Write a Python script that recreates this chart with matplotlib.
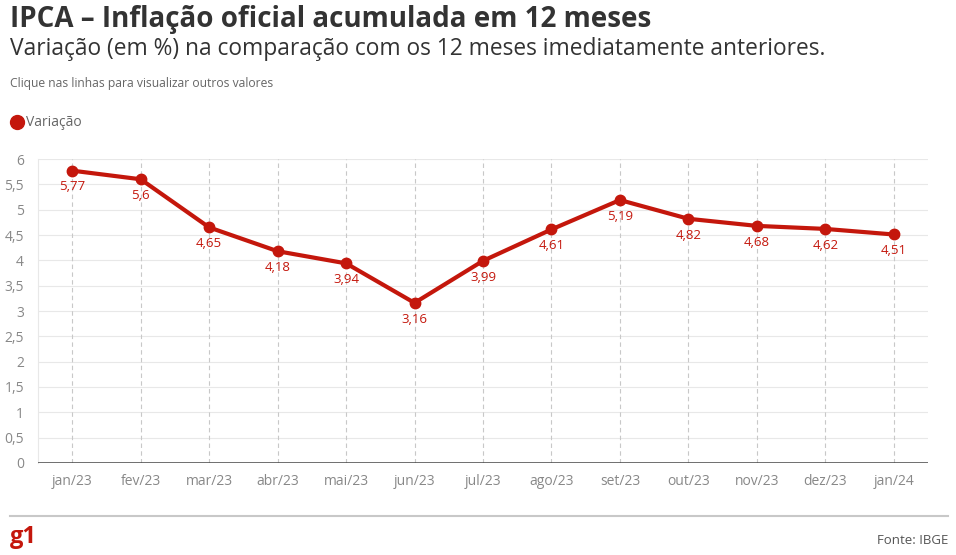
import matplotlib
matplotlib.use("Agg")
import matplotlib.pyplot as plt
from matplotlib.lines import Line2D

months = ["jan/23", "fev/23", "mar/23", "abr/23", "mai/23", "jun/23", "jul/23",
          "ago/23", "set/23", "out/23", "nov/23", "dez/23", "jan/24"]
values = [5.77, 5.6, 4.65, 4.18, 3.94, 3.16, 3.99, 4.61, 5.19, 4.82, 4.68, 4.62, 4.51]
yticks = [0, 0.5, 1, 1.5, 2, 2.5, 3, 3.5, 4, 4.5, 5, 5.5, 6]

RED = "#c4170c"
plt.rcParams['font.family'] = ['Open Sans', 'DejaVu Sans']

W, H = 956, 555
fig = plt.figure(figsize=(W / 100, H / 100), dpi=100)
ax = fig.add_axes([38 / W, 1 - 463 / H, (928 - 38) / W, (463 - 159) / H])

x = list(range(len(months)))
ax.plot(x, values, color=RED, lw=3, marker='o', ms=7.5, zorder=5, solid_joinstyle='round')
for xi, v in zip(x, values):
    lab = f"{v:g}".replace('.', ',')
    ax.annotate(lab, (xi, v), xytext=(0, -7), textcoords='offset points',
                ha='center', va='top', color=RED, fontsize=9.5, zorder=6)

ax.set_xlim(-0.5, 12.5)
ax.set_ylim(0, 6)
ax.set_yticks(yticks)
ax.set_yticklabels([f"{t:g}".replace('.', ',') for t in yticks])
ax.set_xticks(x)
ax.set_xticklabels(months)
ax.tick_params(axis='both', length=0, colors='#888888', labelsize=10)
ax.tick_params(axis='x', pad=8)
ax.tick_params(axis='y', pad=10)

for t in yticks[1:]:
    ax.axhline(t, color='#e8e8e8', lw=0.8, zorder=1)
for xi in x:
    ax.axvline(xi, color='#c8c8c8', lw=0.8, ls=(0, (4, 3)), zorder=1)
ax.axhline(0, color='#444444', lw=1.8, zorder=4)

for s in ['top', 'right', 'bottom']:
    ax.spines[s].set_visible(False)
ax.spines['left'].set_color('#e8e8e8')
ax.spines['left'].set_linewidth(0.8)

fig.text(10 / W, 1 - 19 / H, "IPCA – Inflação oficial acumulada em 12 meses",
         fontsize=20, fontweight='bold', color='#333333', va='center', ha='left')
fig.text(10 / W, 1 - 49 / H, "Variação (em %) na comparação com os 12 meses imediatamente anteriores.",
         fontsize=16.4, color='#333333', va='center', ha='left')
fig.text(10 / W, 1 - 83 / H, "Clique nas linhas para visualizar outros valores",
         fontsize=8.7, color='#666666', va='center', ha='left')

fig.add_artist(Line2D([17 / W], [1 - 122 / H], marker='o', ms=10, color=RED, transform=fig.transFigure))
fig.text(26 / W, 1 - 122 / H, "Variação", fontsize=10, color='#666666', va='center', ha='left')

fig.add_artist(Line2D([10 / W, 948 / W], [1 - 516 / H, 1 - 516 / H], color='#c8c8c8', lw=1.5,
                      transform=fig.transFigure))
fig.text(10 / W, 1 - 537 / H, "g1", fontsize=17, fontweight='bold', color=RED, va='center', ha='left')
fig.text(948 / W, 1 - 540 / H, "Fonte: IBGE", fontsize=9.5, color='#555555', va='center', ha='right')

fig.savefig("out.png", dpi=100, facecolor='white')
